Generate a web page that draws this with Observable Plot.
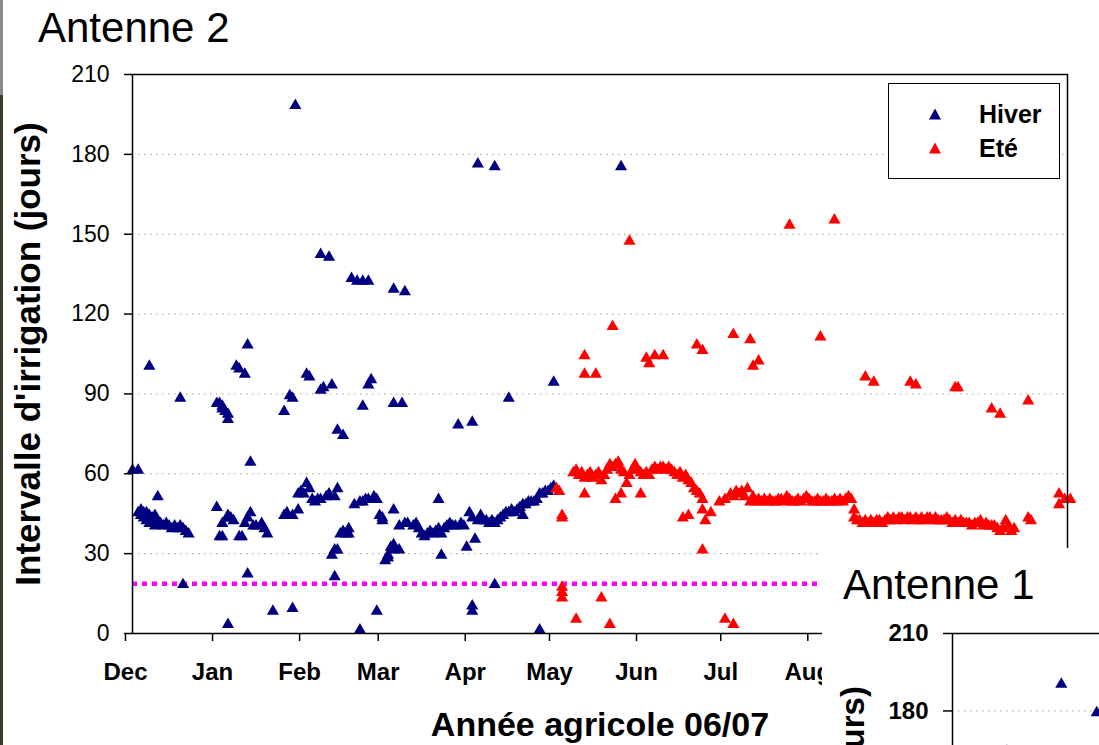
<!DOCTYPE html>
<html>
<head>
<meta charset="utf-8">
<script src="https://cdn.jsdelivr.net/npm/d3@7"></script>
<script src="https://cdn.jsdelivr.net/npm/@observablehq/plot@0.6"></script>
<style>
  html, body { margin: 0; padding: 0; background: #fff; }
  #page { position: relative; width: 1099px; height: 745px; overflow: hidden;
          font-family: "Liberation Sans", Arial, sans-serif; background: #fff; }
  #edge { position: absolute; left: 0; top: 0; width: 3px; height: 745px;
          background: linear-gradient(#8a8a8a 0 95px, #3b3c2e 95px 100%); }
  .titre { position: absolute; font-size: 42px; line-height: 42px; color: #000; white-space: nowrap; }
  #main { position: absolute; left: 0; top: 0; }
  #legende { position: absolute; left: 888px; top: 83px; width: 172px; height: 96px;
             box-sizing: border-box; border: 1.5px solid #000; background: #fff; }
  #legende .item { position: absolute; left: 0; font-weight: bold; font-size: 25px; line-height: 25px; }
  #legende svg { position: absolute; }
  #inset { position: absolute; left: 822px; top: 548px; width: 277px; height: 197px;
           background: #fff; overflow: hidden; }
  #inset .plot { position: absolute; left: 0; top: 0; width: 1066px; }
  svg { max-width: none !important; }
</style>
</head>
<body>
<div id="page">
  <div id="edge"></div>
  <div id="main"></div>
  <div class="titre" style="left:38px; top:7px;">Antenne 2</div>
  <div id="legende"></div>
  <div id="inset">
    <div class="plot"></div>
    <div class="titre" style="left:21px; top:16px;">Antenne 1</div>
  </div>
</div>
<script>
// Season starts on 1 December 2006; positions are days since that date.
const seasonStart = Date.UTC(2006, 11, 1);
const jourVersDate = j => new Date(Date.UTC(2006, 11, 1 + j));

// Month ticks of the agricultural year 06/07
const moisLabels = ["Dec", "Jan", "Feb", "Mar", "Apr", "May", "Jun", "Jul", "Aug"];
const yTicks = [0, 30, 60, 90, 120, 150, 180, 210];
const yTicksAntenne1 = [180, 210];
const seuil = 18.7;

// Antenne 2 — winter series (day since 1 Dec, interval in days)
const hiverJour = [
  0, 2, 2, 3, 3, 4, 4, 5, 5, 6, 6, 6, 7, 7, 8, 8, 9, 9, 10, 11, 12, 13, 14, 15, 16, 17, 17, 18, 18, 19, 20,
  30, 30, 31, 31, 32, 32, 32, 32, 33, 34, 34, 34, 34, 34, 35, 36, 37, 38, 38, 39, 40, 40, 41, 41, 41, 42, 42, 43, 44, 46, 47, 48, 50,
  54, 54, 55, 56, 57, 57, 57, 58, 59, 59, 60, 61, 62, 62, 63, 63, 64, 65, 66, 67, 67, 67, 68, 69, 70, 70, 71, 71,
  72, 72, 72, 73, 73, 73, 74, 75, 75, 76, 77, 77, 78, 79, 80, 81, 81, 82, 82, 82, 83, 84, 84, 84, 85, 86, 87, 87, 88, 89, 89,
  90, 91, 91, 92, 93, 93, 93, 93, 93, 95, 95, 96, 97, 97, 98, 100, 101, 102, 103, 104, 105, 106, 107, 108, 109, 109,
  110, 110, 111, 112, 113, 114, 115, 116, 117, 118, 119, 120, 121, 121, 121, 121, 122, 123, 123, 124, 125, 126, 127, 128,
  129, 129, 129, 130, 131, 132, 133, 134, 134, 135, 136, 137, 138, 139, 139, 140, 141, 142, 143, 144, 145, 145, 146, 147,
  148, 149, 150, 150, 174
];
const hiverIntervalle = [
  62, 62, 46, 47, 45, 46, 44, 46, 43, 45, 42, 101, 44, 43, 45, 41, 43, 52, 42, 41, 42, 41, 40, 41, 40, 41, 89, 40, 19, 39, 38,
  87, 48, 87, 37, 86, 85, 37, 42, 84, 83, 81, 45, 44, 4, 44, 43, 101, 100, 37, 37, 98, 42, 109, 44, 23, 46, 65, 41, 41, 42, 40, 38, 9,
  84, 45, 46, 90, 89, 45, 10, 199, 47, 53, 54, 53, 98, 57, 97, 55, 51, 50, 51, 51, 92, 143, 93, 52, 53, 142, 94, 30,
  52, 32, 22, 55, 32, 77, 38, 39, 75, 38, 38, 40, 134, 49, 133, 50, 2, 50, 133, 86, 51, 51, 133, 94, 96, 52, 51, 9, 45, 44, 43,
  28, 30, 29, 33, 47, 32, 34, 130, 87, 41, 32, 87, 129, 42, 42, 41, 42, 40, 38, 37, 38, 39, 38, 39, 40, 51,
  38, 30, 40, 41, 42, 41, 41, 79, 42, 41, 33, 46, 44, 80, 11, 9, 36, 177, 43, 45, 43, 43, 42, 43,
  42, 176, 19, 43, 44, 45, 46, 46, 89, 47, 46, 47, 48, 45, 49, 49, 50, 50, 50, 51, 53, 2, 53, 54,
  54, 55, 56, 95, 176
];

// Antenne 2 — summer series
const eteJour = [
  151, 152, 153, 153, 153, 153, 153, 157, 158, 158, 159, 160, 161, 161, 161, 161, 162, 163, 164, 165, 165, 166, 167, 167,
  168, 169, 170, 170, 171, 171, 172, 172, 173, 174, 174, 175, 176, 177, 177, 178, 179, 180, 181, 181, 182, 183, 183, 184,
  184, 185, 186, 186, 187, 188, 189, 189, 190, 191, 192, 193, 194, 195, 196, 196, 197, 198, 198, 199, 200, 201, 201, 202,
  203, 203, 203, 203, 204, 206, 209, 211, 211, 213, 214, 214, 214, 215, 216, 217, 218, 219, 220, 220, 221, 221, 222, 223,
  223, 224, 225, 226, 227, 228, 229, 230, 231, 232, 233, 234, 234, 235, 236, 237, 238, 239, 240, 241, 242, 243, 244, 245,
  245, 246, 247, 248, 249, 250, 250, 251, 252, 253, 254, 255, 256, 257, 257, 258, 259, 260, 261, 261, 262, 263, 264, 264,
  265, 266, 267, 268, 269, 270, 271, 272, 273, 274, 275, 276, 277, 277, 278, 279, 279, 280, 281, 282, 283, 284, 285, 286,
  287, 288, 289, 290, 291, 292, 293, 293, 294, 294, 295, 296, 297, 298, 299, 300, 301, 302, 303, 304, 305, 306, 306, 307,
  308, 309, 309, 310, 311, 312, 313, 314, 319, 319, 320, 330, 330, 332, 334
];
const eteIntervalle = [
  55, 54, 45, 44, 18, 16, 14, 61, 62, 6, 60, 61, 59, 53, 105, 98, 60, 61, 59, 60, 98, 61, 58, 14,
  60, 62, 64, 4, 63, 116, 64, 51, 65, 62, 53, 61, 57, 60, 148, 62, 64, 62, 61, 53, 60, 61, 104, 60,
  102, 62, 63, 105, 62, 63, 63, 105, 62, 63, 62, 61, 60, 61, 59, 44, 60, 58, 45, 57, 55, 54, 109, 53,
  51, 47, 107, 32, 43, 46, 50, 51, 6, 53, 52, 4, 113, 54, 53, 54, 52, 55, 50, 111, 52, 101, 50, 51,
  103, 50, 51, 50, 51, 50, 50, 51, 51, 50, 52, 51, 154, 50, 50, 51, 50, 51, 52, 51, 50, 50, 51, 50,
  112, 50, 51, 50, 50, 51, 156, 50, 51, 50, 51, 52, 51, 47, 44, 43, 43, 42, 43, 97, 42, 43, 42, 95,
  43, 43, 42, 43, 44, 43, 44, 43, 44, 44, 43, 44, 44, 95, 43, 44, 94, 43, 44, 43, 44, 44, 43, 44,
  43, 43, 43, 44, 43, 42, 43, 93, 42, 93, 43, 42, 42, 42, 41, 42, 42, 43, 41, 42, 41, 41, 85, 41,
  40, 39, 83, 40, 43, 41, 39, 40, 44, 88, 43, 53, 49, 51, 51
];

// Antenne 1 — winter series (only the upper part of this chart shows)
const a1HiverJour = [20, 40, 53];
const a1HiverIntervalle = [165, 191, 180];

const couleurHiver = "#000080";
const couleurEte = "#ff0000";

const hiver = hiverJour.map((j, i) => ({date: jourVersDate(j), v: hiverIntervalle[i]}));
const ete = eteJour.map((j, i) => ({date: jourVersDate(j), v: eteIntervalle[i]}));
const a1Hiver = a1HiverJour.map((j, i) => ({date: jourVersDate(j), v: a1HiverIntervalle[i]}));
const moisDates = moisLabels.map((_, i) => d3.utcMonth.offset(new Date(seasonStart), i));
const moisFormat = d => moisLabels[d3.utcMonth.count(new Date(seasonStart), d)];

const police = '"Liberation Sans", Arial, sans-serif';
const gridStyle = {stroke: "#9a9a9a", strokeOpacity: 1, strokeWidth: 1, strokeDasharray: "1.5,4.5"};
const triangle = {symbol: "triangle", r: 4.5, dy: 1.7, stroke: null};
const titreAxe = {text: d => d, textAnchor: "middle", lineAnchor: "middle", fontWeight: "bold"};

// Main chart: Antenne 2
const main = Plot.plot({
  width: 1099,
  height: 745,
  marginLeft: 132,
  marginRight: 32,
  marginTop: 74,
  marginBottom: 112,
  style: {fontFamily: police, background: "transparent", color: "#000", overflow: "visible", maxWidth: "none"},
  x: {type: "utc", domain: [jourVersDate(0), jourVersDate(333)]},
  y: {domain: [0, 210]},
  marks: [
    Plot.gridY(yTicks.filter(t => t > 0 && t < 210), gridStyle),
    Plot.ruleY([seuil], {stroke: "#ff00ff", strokeWidth: 4.5, strokeDasharray: "5,5"}),
    Plot.dot(hiver, {x: "date", y: "v", fill: couleurHiver, ...triangle}),
    Plot.dot(ete, {x: "date", y: "v", fill: couleurEte, ...triangle}),
    Plot.frame({stroke: "#000", strokeWidth: 1.5}),
    Plot.axisY(yTicks, {tickSize: 8, tickPadding: 15, fontSize: 23, label: null, stroke: "#000", strokeWidth: 1.5}),
    Plot.axisX(moisDates, {tickSize: 8, tickPadding: 21, tickFormat: moisFormat, fontSize: 24, fontWeight: "bold",
                           dx: -7, label: null, stroke: "#000", strokeWidth: 1.5}),
    Plot.text(["Intervalle d'irrigation (jours)"], {...titreAxe, frameAnchor: "left", dx: -104, rotate: -90, fontSize: 35}),
    Plot.text(["Année agricole 06/07"], {...titreAxe, frameAnchor: "bottom", dy: 92, fontSize: 34})
  ]
});
document.getElementById("main").append(main);

// Legend box
const legende = d3.select("#legende");
[["Hiver", couleurHiver, 30], ["Eté", couleurEte, 64]].forEach(([nom, couleur, cy]) => {
  legende.append("svg").attr("width", 14).attr("height", 12)
    .style("left", (46 - 7) + "px").style("top", (cy - 6) + "px")
    .append("polygon").attr("points", "7,0.5 13,11.5 1,11.5").attr("fill", couleur);
  legende.append("div").attr("class", "item")
    .style("left", "90px").style("top", (cy - 12) + "px").text(nom);
});

// Inset chart: Antenne 1 (upper left part only)
const inset = Plot.plot({
  width: 1066,
  height: 700,
  marginLeft: 130,
  marginRight: 30,
  marginTop: 85,
  marginBottom: 73,
  style: {fontFamily: police, background: "transparent", color: "#000", overflow: "visible", maxWidth: "none"},
  x: {type: "utc", domain: [jourVersDate(0), jourVersDate(333)]},
  y: {domain: [0, 210]},
  marks: [
    Plot.gridY(yTicksAntenne1.filter(t => t < 210), gridStyle),
    Plot.dot(a1Hiver, {x: "date", y: "v", fill: couleurHiver, ...triangle}),
    Plot.frame({stroke: "#000", strokeWidth: 1.5}),
    Plot.axisY(yTicksAntenne1, {tickSize: 9, tickPadding: 15, fontSize: 24, fontWeight: "bold", label: null,
                                stroke: "#000", strokeWidth: 1.5}),
    Plot.text(["Intervalle d'irrigation (jours)"], {...titreAxe, frameAnchor: "left", dx: -99, rotate: -90, fontSize: 33})
  ]
});
document.querySelector("#inset .plot").append(inset);
</script>
</body>
</html>
